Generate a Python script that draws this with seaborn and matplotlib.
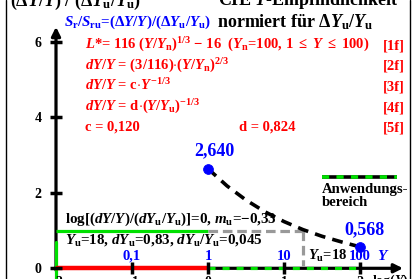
import matplotlib
matplotlib.use('Agg')
import matplotlib.pyplot as plt
import seaborn as sns
import pandas as pd
from matplotlib.lines import Line2D

# ---------------- data ----------------
log_y_points = [0.0, 2.0]
sens_points = [2.640, 0.568]
point_labels = ['2,640', '0,568']
curve_logy = [0.0, 0.25, 0.5, 0.75, 1.0, 1.25, 1.5, 1.75, 2.0]
curve_sens = [2.640, 2.185, 1.809, 1.497, 1.239, 1.025, 0.849, 0.703, 0.568]
ref_level = 1.0
log_yu = 1.255
x_ticks = [-2, -1, 0, 1, 2]
x_tick_labels = ['\u22122', '\u22121', '0', '1', '2']
y_value_pos = [-1, 0, 1, 2]
y_value_labels = ['0,1', '1', '10', '100']
y_ticks = [0, 2, 4, 6]
y_tick_labels = ['0', '2', '4', '6']
red_range = [-2, 0]
app_range = [0, 1.95]

# ---------------- style ----------------
sns.set_style('white')
plt.rcParams['font.family'] = ['Liberation Serif', 'DejaVu Serif']
plt.rcParams['font.weight'] = 'bold'
plt.rcParams['mathtext.fontset'] = 'custom'
plt.rcParams['mathtext.rm'] = 'Liberation Serif:bold'
plt.rcParams['mathtext.it'] = 'Liberation Serif:italic:bold'
plt.rcParams['mathtext.bf'] = 'Liberation Serif:bold'
plt.rcParams['mathtext.default'] = 'rm'

W, H = 414, 279
X0PX, SX = 208.0, 76.0      # pixel of log Y = 0, px per unit
Y0PX, SY = 268.3, 37.72     # pixel of value 0, px per unit

fig = plt.figure(figsize=(W / 100, H / 100), dpi=100)
fig.patch.set_facecolor('white')
ax = fig.add_axes([0, 0, 1, 1])
ax.set_xlim(-X0PX / SX, (W - X0PX) / SX)
ax.set_ylim((Y0PX - H) / SY, Y0PX / SY)
ax.axis('off')

BLUE = '#0000ff'
RED = '#ff0000'
GREEN = '#00e000'
GRAY = '#999999'


def ptx(x, y, s, ha='left', va='baseline', size=10, color='black', **kw):
    fig.text(x / W, 1 - y / H, s, ha=ha, va=va, fontsize=size, color=color,
             fontweight='bold', **kw)


# frame (left/right borders)
fig.add_artist(Line2D([6 / W, 6 / W], [0, 1], color='black', lw=1.0))
fig.add_artist(Line2D([410.5 / W, 410.5 / W], [0, 1], color='black', lw=1.0))

# axes lines with arrows
ax.annotate('', xy=(2.566, 0), xytext=(-2.02, 0),
            arrowprops=dict(arrowstyle='-|>', lw=2.3, color='black', mutation_scale=13,
                            shrinkA=0, shrinkB=0), zorder=2)
ax.annotate('', xy=(-2, 6.40), xytext=(-2, -0.05),
            arrowprops=dict(arrowstyle='-|>', lw=2.3, color='black', mutation_scale=13,
                            shrinkA=0, shrinkB=0), zorder=2)

# green segment on y-axis
ax.plot([-2, -2], [-0.3, 0.70], color=GREEN, lw=2.3, zorder=3)

# red range on x-axis
ax.plot(red_range, [0, 0], color=RED, lw=3.2, solid_capstyle='butt', zorder=4)
# application range dashes (green on black)
ax.plot(app_range, [0, 0], color=GREEN, lw=2.3, linestyle=(0, (2.2, 2.2)), zorder=4)

# ticks
ax.plot(x_ticks[1:], [0] * (len(x_ticks) - 1), linestyle='none', marker='|',
        markersize=9, mew=2.5, color='black', zorder=5)
ax.plot([-2] * len(y_ticks), y_ticks, linestyle='none', marker='_',
        markersize=9, mew=2.5, color='black', zorder=5)

# reference level line and Yu lines
ax.plot([-2, 0], [ref_level, ref_level], color=GREEN, lw=2.3, solid_capstyle='butt', zorder=3)
ax.plot([0, log_yu], [ref_level, ref_level], color=GRAY, lw=2.3,
        linestyle=(0, (3, 1.5)), zorder=3)
ax.plot([log_yu, log_yu], [ref_level, 0.05], color=GRAY, lw=2.3,
        linestyle=(0, (3, 1.5)), zorder=3)

# curve
curve_df = pd.DataFrame({'logY': curve_logy, 'S': curve_sens})
sns.lineplot(data=curve_df, x='logY', y='S', ax=ax, color='black', lw=2.6,
             linestyle=(0, (3, 2)), zorder=6)

# points
pts_df = pd.DataFrame({'logY': log_y_points, 'S': sens_points})
sns.scatterplot(data=pts_df, x='logY', y='S', ax=ax, color=BLUE, s=50,
                edgecolor=BLUE, zorder=7, legend=False)
ax.axis('off')

# legend line
ax.plot([1.5, 2.487], [2.42, 2.42], color='black', lw=2.6, solid_capstyle='butt', zorder=4)
ax.plot([1.5, 2.487], [2.42, 2.42], color=GREEN, lw=2.6, linestyle=(0, (2, 2)), zorder=5)

# point labels
for xv, yv, lab, dx in zip(log_y_points, sens_points, point_labels, [6, 5]):
    ax.annotate(lab, xy=(xv, yv), xytext=(dx, 9), textcoords='offset pixels',
                ha='center', va='bottom', fontsize=13, color=BLUE, fontweight='bold')

# x tick labels (bottom, clipped like the reference) and Y value labels
for xv, lab in zip(x_ticks, x_tick_labels):
    ptx(X0PX + xv * SX, 276, lab, ha='center', va='top', size=10)
for xv, lab in zip(y_value_pos, y_value_labels):
    ptx(X0PX + xv * SX, 260, lab, ha='center', size=10.5, color=BLUE)
ptx(377, 260, r'$\mathit{Y}$', size=11, color=BLUE)
ptx(372, 273, r'log($\mathit{Y}$)', size=10, va='top')
ptx(308, 260, r'$\mathit{Y}_{\mathrm{u}}$=18', size=10.5)

# y tick labels
for yv, lab in zip(y_ticks, y_tick_labels):
    ptx(38, Y0PX - yv * SY, lab, ha='center', va='center_baseline', size=10)

# titles
ptx(10, 6, r'$(\Delta\mathit{Y/Y})\ /\ (\Delta\mathit{Y}_{\mathrm{u}}\mathit{/Y}_{\mathrm{u}})$', size=13)
ptx(218, 5, r'CIE $\mathit{Y}$-Empfindlichkeit', size=13)
ptx(64, 26, r'$\mathit{S}_{\mathrm{r}}\mathit{/S}_{\mathrm{ru}}$=$(\Delta\mathit{Y/Y})/(\Delta\mathit{Y}_{\mathrm{u}}\mathit{/Y}_{\mathrm{u}})$',
    size=10.8, color=BLUE)
ptx(217, 27, r'normiert für $\Delta\mathit{Y}_{\mathrm{u}}\mathit{/Y}_{\mathrm{u}}$', size=13)

# red formulas
red_lines = [
    r'$\mathit{L}$*= 116 $(\mathit{Y/Y}_{\mathrm{n}})^{1/3}$ $-$ 16  $(\mathit{Y}_{\mathrm{n}}$=100, 1 $\leq$ $\mathit{Y}$ $\leq$ 100)',
    r'$\mathit{dY/Y}$ = (3/116)$\cdot(\mathit{Y/Y}_{\mathrm{n}})^{2/3}$',
    r'$\mathit{dY/Y}$ = c$\cdot\mathit{Y}^{-1/3}$',
    r'$\mathit{dY/Y}$ = d$\cdot(\mathit{Y/Y}_{\mathrm{u}})^{-1/3}$',
    'c = 0,120',
]
red_tags = ['[1f]', '[2f]', '[3f]', '[4f]', '[5f]']
baselines = [49, 70, 90.5, 111, 131]
for s, tag, yb in zip(red_lines, red_tags, baselines):
    ptx(85, yb, s, size=10.5, color=RED)
    ptx(405, yb, tag, ha='right', size=10.5, color=RED)
ptx(239, 131, 'd = 0,824', size=10.5, color=RED)

# black annotations
ptx(65, 223, r'log[$(\mathit{dY/Y})/(\mathit{dY}_{\mathrm{u}}\mathit{/Y}_{\mathrm{u}})$]=0, $\mathit{m}_{\mathrm{u}}$=$-$0,33', size=10.8)
ptx(65, 244, r'$\mathit{Y}_{\mathrm{u}}$=18, $\mathit{dY}_{\mathrm{u}}$=0,83, $\mathit{dY}_{\mathrm{u}}\mathit{/Y}_{\mathrm{u}}$=0,045', size=10.8)

# legend text
ptx(322, 193, 'Anwendungs-', size=10.6)
ptx(322, 206, 'bereich', size=10.6)

fig.savefig('out.png', dpi=100, facecolor='white')
